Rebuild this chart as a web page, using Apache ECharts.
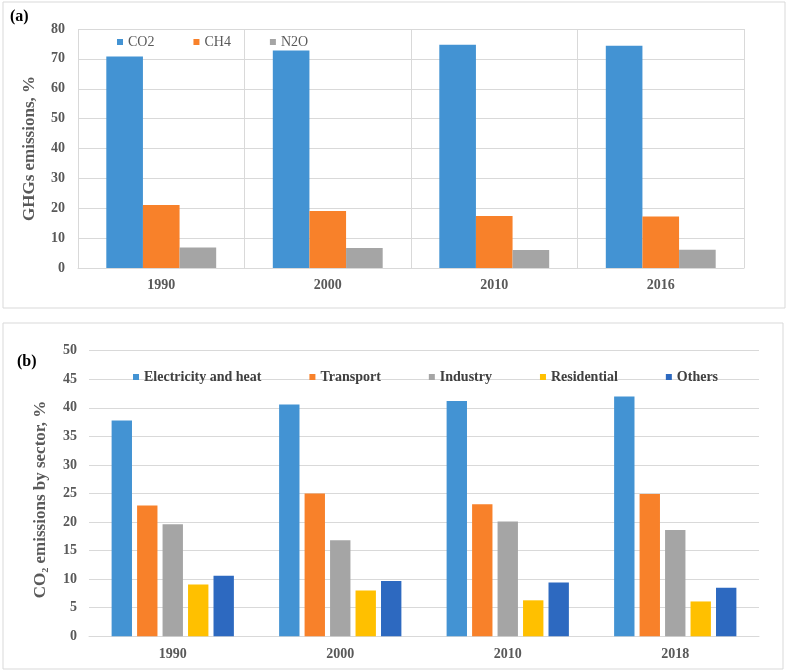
<!DOCTYPE html>
<html>
<head>
<meta charset="utf-8">
<script src="https://cdn.jsdelivr.net/npm/echarts@6/dist/echarts.min.js"></script>
<style>html,body{margin:0;padding:0;background:#fff;}#c{width:789px;height:671px;}</style>
</head>
<body>
<div id="c"></div>
<script>
// Panel (a): GHG emissions by gas
const yearsA = ['1990', '2000', '2010', '2016'];
const gasNames = ['CO2', 'CH4', 'N2O'];
const co2 = [70.8, 72.8, 74.7, 74.4];
const ch4 = [21.1, 19.1, 17.4, 17.2];
const n2o = [6.9, 6.7, 6.0, 6.1];
const ticksA = { min: 0, max: 80, interval: 10 };

// Panel (b): CO2 emissions by sector
const yearsB = ['1990', '2000', '2010', '2018'];
const sectorNames = ['Electricity and heat', 'Transport', 'Industry', 'Residential', 'Others'];
const electricity = [37.8, 40.6, 41.2, 42.0];
const transport = [22.9, 25.0, 23.1, 24.9];
const industry = [19.6, 16.8, 20.1, 18.6];
const residential = [9.05, 8.0, 6.3, 6.1];
const others = [10.6, 9.7, 9.4, 8.5];
const ticksB = { min: 0, max: 50, interval: 5 };

const FONT = '"Liberation Serif", "Times New Roman", serif';
const GRID = '#D9D9D9';
const LABEL = '#595959';
const colorsA = ['#4393D3', '#F8812A', '#A5A5A5'];
const colorsB = ['#4393D3', '#F8812A', '#A5A5A5', '#FFC000', '#2D69C0'];

const seriesA = [co2, ch4, n2o].map((d, i) => ({
  name: gasNames[i], type: 'bar', xAxisIndex: 0, yAxisIndex: 0, data: d,
  itemStyle: { color: colorsA[i] }, barGap: '0%', barCategoryGap: '34%'
}));
const seriesB = [electricity, transport, industry, residential, others].map((d, i) => ({
  name: sectorNames[i], type: 'bar', xAxisIndex: 1, yAxisIndex: 1, data: d,
  itemStyle: { color: colorsB[i] }, barGap: '25%', barCategoryGap: '27%'
}));

const chart = echarts.init(document.getElementById('c'), null, { renderer: 'canvas' });
chart.setOption({
  animation: false,
  backgroundColor: '#fff',
  textStyle: { fontFamily: FONT },
  graphic: [
    { type: 'rect', shape: { x: 3, y: 2, width: 782, height: 306 }, style: { fill: 'none', stroke: GRID, lineWidth: 1 } },
    { type: 'rect', shape: { x: 3, y: 323, width: 780, height: 346 }, style: { fill: 'none', stroke: GRID, lineWidth: 1 } },
    { type: 'text', left: 10, top: 9, style: { text: '(a)', font: 'bold 16px ' + FONT, fill: '#000' } },
    { type: 'text', left: 17, top: 354, style: { text: '(b)', font: 'bold 16px ' + FONT, fill: '#000' } }
  ],
  legend: [
    { data: gasNames, left: 117, top: 35, padding: 0, itemGap: 39, itemWidth: 6, itemHeight: 6, icon: 'rect',
      textStyle: { fontFamily: FONT, fontSize: 14, color: LABEL } },
    { data: sectorNames, left: 133, top: 370, padding: 0, itemGap: 48, itemWidth: 6, itemHeight: 6, icon: 'rect',
      textStyle: { fontFamily: FONT, fontSize: 14, fontWeight: 'bold', color: '#404040' } }
  ],
  grid: [
    { left: 78, right: 45, top: 29, height: 239 },
    { left: 89, right: 30, top: 350.7, height: 285.6 }
  ],
  xAxis: [
    { type: 'category', gridIndex: 0, data: yearsA,
      axisLine: { lineStyle: { color: GRID } }, axisTick: { show: false },
      splitLine: { show: true, lineStyle: { color: GRID } },
      axisLabel: { fontFamily: FONT, fontSize: 14, fontWeight: 'bold', color: LABEL, margin: 10 } },
    { type: 'category', gridIndex: 1, data: yearsB,
      axisLine: { lineStyle: { color: GRID } }, axisTick: { show: false },
      splitLine: { show: false },
      axisLabel: { fontFamily: FONT, fontSize: 14, fontWeight: 'bold', color: LABEL, margin: 11 } }
  ],
  yAxis: [
    { type: 'value', gridIndex: 0, min: ticksA.min, max: ticksA.max, interval: ticksA.interval,
      name: 'GHGs emissions, %', nameLocation: 'middle', nameRotate: 90, nameGap: 40,
      nameTextStyle: { fontFamily: FONT, fontSize: 17, fontWeight: 'bold', color: LABEL },
      axisLine: { show: false }, axisTick: { show: false },
      splitLine: { lineStyle: { color: GRID } },
      axisLabel: { fontFamily: FONT, fontSize: 14, fontWeight: 'bold', color: LABEL, margin: 13 } },
    { type: 'value', gridIndex: 1, min: ticksB.min, max: ticksB.max, interval: ticksB.interval,
      name: 'CO\u2082 emissions by sector, %', nameLocation: 'middle', nameRotate: 90, nameGap: 40,
      nameTextStyle: { fontFamily: FONT, fontSize: 17, fontWeight: 'bold', color: LABEL, padding: [0, 12, 0, 0] },
      axisLine: { show: false }, axisTick: { show: false },
      splitLine: { lineStyle: { color: GRID } },
      axisLabel: { fontFamily: FONT, fontSize: 14, fontWeight: 'bold', color: LABEL, margin: 12 } }
  ],
  series: seriesA.concat(seriesB)
});
</script>
</body>
</html>
